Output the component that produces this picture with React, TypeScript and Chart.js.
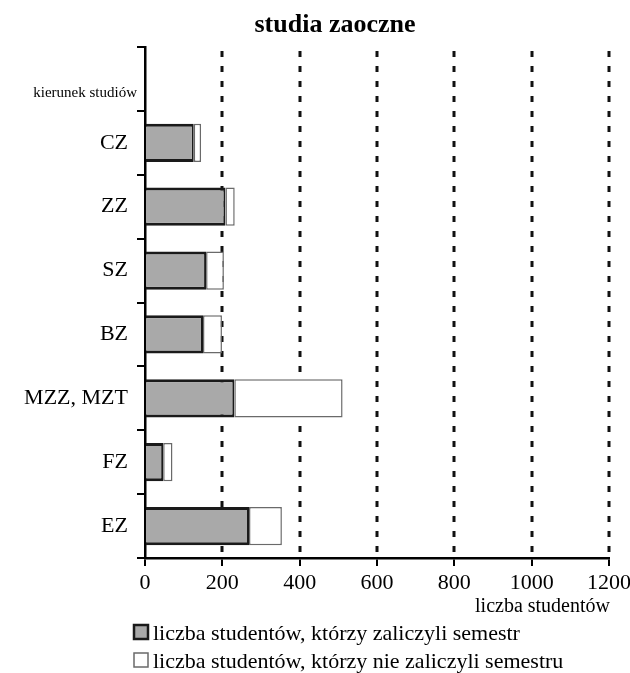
import React, { useEffect, useRef } from "react";
import { Chart, registerables } from "chart.js";

Chart.register(...registerables);

const categories = ["", "CZ", "ZZ", "SZ", "BZ", "MZZ, MZT", "FZ", "EZ"];
const passed = [null, 126, 208, 158, 150, 231, 47, 269];
const failed = [null, 19, 24, 46, 49, 280, 24, 85];
const xTicks = [0, 200, 400, 600, 800, 1000, 1200];
const titleText = "studia zaoczne";
const yAxisTitle = "kierunek studiów";
const xAxisTitle = "liczba studentów";
const seriesLabels = [
  "liczba studentów, którzy zaliczyli semestr",
  "liczba studentów, którzy nie zaliczyli semestru",
];

const SERIF = "'Liberation Serif', 'Times New Roman', serif";
const GRAY = "#a9a9a9";
const DARK = "#1a1a1a";
const WHITE_BORDER = "#6a6a6a";

export default function App() {
  const ref = useRef<HTMLCanvasElement | null>(null);

  useEffect(() => {
    if (!ref.current) return;
    const decor = {
      id: "decor",
      beforeDatasetsDraw(chart: any) {
        const { ctx, chartArea, scales } = chart;
        const xs = scales.x;
        ctx.save();
        ctx.strokeStyle = "#111";
        ctx.lineWidth = 3;
        ctx.setLineDash([6, 9]);
        xTicks.forEach((v) => {
          if (v === 0) return;
          const px = Math.round(xs.getPixelForValue(v));
          ctx.beginPath();
          ctx.moveTo(px, chartArea.top + 4);
          ctx.lineTo(px, chartArea.bottom);
          ctx.stroke();
        });
        ctx.restore();
      },
      afterDraw(chart: any) {
        const { ctx } = chart;
        ctx.save();
        ctx.fillStyle = "#000";
        // title
        ctx.font = `bold 26px ${SERIF}`;
        ctx.textAlign = "center";
        ctx.textBaseline = "alphabetic";
        ctx.fillText(titleText, 335, 32);
        // y axis title
        ctx.font = `15px ${SERIF}`;
        ctx.textAlign = "right";
        ctx.fillText(yAxisTitle, 137, 97);
        // x axis title
        ctx.font = `20px ${SERIF}`;
        ctx.textAlign = "right";
        ctx.fillText(xAxisTitle, 610, 612);
        // legend
        const rows = [
          { y: 640, fill: GRAY, stroke: DARK, lw: 2.5 },
          { y: 668, fill: "#fff", stroke: WHITE_BORDER, lw: 1.5 },
        ];
        rows.forEach((r, i) => {
          ctx.fillStyle = r.fill;
          ctx.fillRect(134, r.y - 15, 14, 14);
          ctx.strokeStyle = r.stroke;
          ctx.lineWidth = r.lw;
          ctx.strokeRect(134, r.y - 15, 14, 14);
          ctx.fillStyle = "#000";
          ctx.font = `22px ${SERIF}`;
          ctx.textAlign = "left";
          ctx.fillText(seriesLabels[i], 153, r.y);
        });
        ctx.restore();
      },
    };

    const chart = new Chart(ref.current, {
      type: "bar",
      data: {
        labels: categories,
        datasets: [
          {
            label: seriesLabels[0],
            data: passed as any,
            backgroundColor: GRAY,
            borderColor: DARK,
            borderWidth: { top: 3, bottom: 3, left: 0, right: 2 } as any,
            borderSkipped: false,
            categoryPercentage: 0.6,
            barPercentage: 1,
          },
          {
            label: seriesLabels[1],
            data: failed as any,
            backgroundColor: "#ffffff",
            borderColor: WHITE_BORDER,
            borderWidth: 1.5,
            borderSkipped: false,
            categoryPercentage: 0.6,
            barPercentage: 1,
          },
        ],
      },
      options: {
        indexAxis: "y",
        responsive: false,
        animation: false,
        layout: { padding: { left: 0, top: 47, right: 21, bottom: 0 } },
        plugins: {
          legend: { display: false },
          title: { display: false },
          tooltip: { enabled: false },
        },
        scales: {
          x: {
            stacked: true,
            min: 0,
            max: 1200,
            afterBuildTicks(scale: any) {
              scale.ticks = xTicks.map((v) => ({ value: v }));
            },
            afterFit(scale: any) {
              scale.height = 115;
              scale.paddingLeft = 0;
              scale.paddingRight = 0;
            },
            ticks: {
              color: "#000",
              font: { family: SERIF, size: 22 },
              padding: 4,
              maxRotation: 0,
              autoSkip: false,
              callback: (v: any) => String(v),
            },
            grid: {
              drawOnChartArea: false,
              drawTicks: true,
              tickLength: 8,
              color: "#000",
              lineWidth: 2,
            },
            border: { color: "#000", width: 2.5 },
          },
          y: {
            stacked: true,
            afterFit(scale: any) {
              scale.width = 145;
            },
            ticks: {
              color: "#000",
              font: { family: SERIF, size: 22 },
              padding: 9,
              autoSkip: false,
            },
            grid: {
              drawOnChartArea: false,
              offset: true,
              tickLength: 8,
              color: "#000",
              lineWidth: 2,
            },
            border: { color: "#000", width: 2.5 },
          },
        },
      } as any,
      plugins: [decor],
    });
    return () => chart.destroy();
  }, []);

  return (
    <div style={{ position: "absolute", left: 0, top: 0, width: 630, height: 673, background: "#fff" }}>
      <canvas ref={ref} width={630} height={673} style={{ display: "block" }} />
    </div>
  );
}
